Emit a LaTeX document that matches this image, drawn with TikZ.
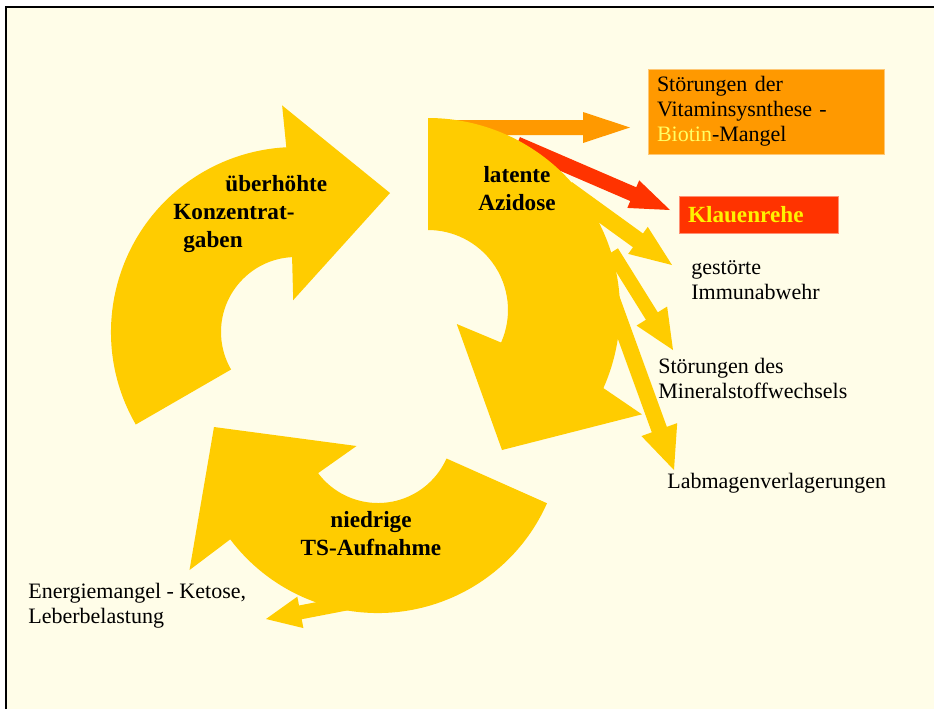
\documentclass[tikz,border=0pt]{standalone}
\usepackage{fontspec}
\setmainfont{Liberation Serif}
\usetikzlibrary{calc}

\definecolor{paper}{HTML}{FFFDE8}
\definecolor{cycleyellow}{HTML}{FFCC00}
\definecolor{vitorange}{HTML}{FF9900}
\definecolor{klauenred}{HTML}{FF3300}
\definecolor{biotin}{HTML}{FFFF66}

% block arrow: [style]{tail}{tip}{shaft half width}{head half width}{head length}
\newcommand{\blockarrow}[6][]{%
  \coordinate (hb) at ($(#3)!#6!(#2)$);
  \fill[#1] ($(#2)!#4!90:(#3)$) -- ($(hb)!#4!90:(#3)$) -- ($(hb)!#5!90:(#3)$) -- (#3)
    -- ($(hb)!#5!-90:(#3)$) -- ($(hb)!#4!-90:(#3)$) -- ($(#2)!#4!-90:(#3)$) -- cycle;
}

\begin{document}
\begin{tikzpicture}[x=0.5pt, y=0.5pt,
    cyc/.style={fill=cycleyellow},
    lbl/.style={inner sep=0, anchor=west, align=left, font={\fontsize{11}{12.4}\selectfont}},
    cyclbl/.style={inner sep=0, align=center, font={\fontsize{11.6}{14}\selectfont\bfseries}},
    vitbox/.style={fill=vitorange, draw=vitorange!55!white, line width=0.5pt, text width=109pt,
        inner xsep=4.5pt, minimum height=42.5pt, align=left, font={\fontsize{11}{12.4}\selectfont}},
    redbox/.style={fill=klauenred, draw=klauenred!55!white, line width=0.5pt, text width=70.5pt,
        inner xsep=4.5pt, minimum height=18.5pt, align=left, text=yellow,
        font={\fontsize{11.6}{14}\selectfont\bfseries}}
]
    \useasboundingbox (0,0) rectangle (934,-709);
    % Page
    \fill[paper] (6,-7) rectangle (934,-709);
    \draw[line width=1.25pt] (6,-709) -- (6,-7) -- (934,-7);

    % Arrows behind the cycle
    \coordinate (vitTail) at (440,-127.5);
    \coordinate (vitTip) at (630,-127.5);
    \blockarrow[fill=vitorange]{vitTail}{vitTip}{3.75pt}{7.75pt}{23.5pt}
    \coordinate (klauenTail) at (517,-144);
    \coordinate (klauenTip) at (670,-210);
    \blockarrow[fill=klauenred]{klauenTail}{klauenTip}{3.75pt}{7.5pt}{20pt}

    % The cycle
    \coordinate (c1) at (296,-332);
    \fill[cyc] ([shift={(210:185)}]c1) arc[start angle=210, end angle=93, radius=185]
        -- ([shift={(93.5:227)}]c1) -- (390,-193) -- ([shift={(95:32)}]c1)
        -- ([shift={(93:75)}]c1) arc[start angle=93, end angle=210, radius=75] -- cycle;
    \coordinate (c2) at (428,-310);
    \fill[cyc] ([shift={(90:192)}]c2) arc[start angle=90, end angle=-24, radius=192]
        -- ([shift={(-26:238)}]c2) -- (502,-450) -- ([shift={(-26:32)}]c2)
        -- ([shift={(-24:80)}]c2) arc[start angle=-24, end angle=90, radius=80] -- cycle;
    \coordinate (c3) at (378,-428);
    \fill[cyc] ([shift={(-24:185)}]c3) arc[start angle=-24, end angle=-143, radius=185]
        -- ([shift={(-143:236)}]c3) -- (214,-427) -- ([shift={(-140:28)}]c3)
        -- ([shift={(-143:75)}]c3) arc[start angle=-143, end angle=-24, radius=75] -- cycle;

    % Consequences
    \coordinate (immunTail) at (567,-189);
    \coordinate (immunTip) at (672,-265);
    \blockarrow[cyc]{immunTail}{immunTip}{4.25pt}{8.35pt}{21pt}
    \coordinate (mineralTail) at (612,-252);
    \coordinate (mineralTip) at (673,-350);
    \blockarrow[cyc]{mineralTail}{mineralTip}{3.5pt}{9pt}{20pt}
    \coordinate (labmagenTail) at (609,-291);
    \coordinate (labmagenTip) at (674,-470);
    \blockarrow[cyc]{labmagenTail}{labmagenTip}{4pt}{9.5pt}{21.5pt}
    \coordinate (ketoseTail) at (385,-596);
    \coordinate (ketoseTip) at (266,-619);
    \blockarrow[cyc]{ketoseTail}{ketoseTip}{3.5pt}{8pt}{17.5pt}

    % Labels
    \node[cyclbl, align=left, anchor=west] (kraft) at (173,-214) {\hspace*{26pt}überhöhte\\Konzentrat-\\\hspace*{5pt}gaben};
    \node[cyclbl] (azidose) at (517,-189) {latente\\Azidose};
    \node[cyclbl] (ts) at (371,-534) {niedrige\\TS-Aufnahme};

    \node[vitbox] (vitamin) at (766,-111.5) {Störungen der\\Vitaminsysnthese -\\\textcolor{biotin}{Biotin}-Mangel};
    \node[redbox] (klauen) at (758.5,-214.5) {Klauenrehe};
    \node[lbl] (immun) at (691,-280.5) {gestörte\\Immunabwehr};
    \node[lbl] (mineral) at (658,-378.5) {Störungen des\\Mineralstoffwechsels};
    \node[lbl] (labmagen) at (667,-483) {Labmagenverlagerungen};
    \node[lbl] (ketose) at (28,-605.5) {Energiemangel - Ketose,\\Leberbelastung};
\end{tikzpicture}
\end{document}
